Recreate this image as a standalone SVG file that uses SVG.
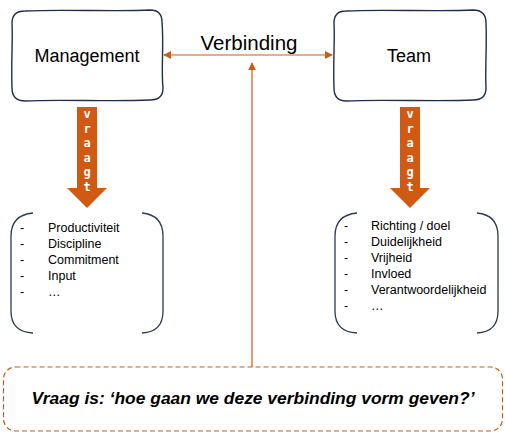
<svg xmlns="http://www.w3.org/2000/svg" width="505" height="442" viewBox="0 0 505 442">
<style>
.box{fill:#fff;stroke:#1f2d4e;stroke-width:1.4;stroke-linejoin:round}
.brk{fill:none;stroke:#2f3b52;stroke-width:1.3}
.lbl{font-family:"Liberation Sans",Arial,sans-serif;font-size:18px;fill:#000;text-anchor:middle}
.li{font-family:"Liberation Sans",Arial,sans-serif;font-size:12.5px;fill:#000}
.vr{font-family:"DejaVu Sans Mono","Liberation Mono",monospace;font-size:12px;font-weight:bold;fill:#fff;text-anchor:middle}
.con{stroke:#d05a14;stroke-width:1.2;fill:none}
.big{fill:#d05a14}
</style>
<defs>
<marker id="ah" viewBox="0 0 10 10" refX="9" refY="5" markerWidth="8" markerHeight="8" markerUnits="userSpaceOnUse" orient="auto-start-reverse">
<path d="M0 0 L10 5 L0 10 Z" fill="#d05a14"/>
</marker>
</defs>

<g id="management">
<path class="box" d="M25 11 C60 9 120 12 150 10 Q162 10 162 22 C164 45 161 70 163 88 Q163 100 150 100 C110 102 60 99 25 101 Q12 101 12 88 C11 60 13 40 12 23 Q12 11 25 11 Z"/>
<text class="lbl" x="87" y="62">Management</text>
</g>

<g id="team">
<path class="box" d="M346 11 C380 9 440 12 473 10 Q486 10 486 23 C487 45 485 70 486 88 Q486 100 473 100 C440 102 380 99 346 101 Q334 101 334 88 C333 60 335 40 334 23 Q334 11 346 11 Z"/>
<text class="lbl" x="409" y="62">Team</text>
</g>

<g id="verbinding-label">
<text class="lbl" x="249" y="50" style="font-size:20.5px">Verbinding</text>
</g>

<g id="vraagt-left">
<path class="big" d="M77 107 H97 V188 H107 L87 208 L67 188 H77 Z"/>
<text class="vr" x="87" y="118">v</text>
<text class="vr" x="87" y="133">r</text>
<text class="vr" x="87" y="147">a</text>
<text class="vr" x="87" y="162">a</text>
<text class="vr" x="87" y="176">g</text>
<text class="vr" x="87" y="191">t</text>
</g>

<g id="vraagt-right">
<path class="big" d="M400 107 H420 V188 H430 L410 208 L390 188 H400 Z"/>
<text class="vr" x="410" y="118">v</text>
<text class="vr" x="410" y="133">r</text>
<text class="vr" x="410" y="147">a</text>
<text class="vr" x="410" y="162">a</text>
<text class="vr" x="410" y="176">g</text>
<text class="vr" x="410" y="191">t</text>
</g>

<g id="management-list">
<path class="brk" d="M33 213 Q11 215 11 236 L11 311 Q11 332 33 333"/>
<path class="brk" d="M142 213 Q163 215 163 236 L163 311 Q163 332 142 333"/>
<text class="li" x="20" y="232">-</text><text class="li" x="48" y="232">Productiviteit</text>
<text class="li" x="20" y="248">-</text><text class="li" x="48" y="248">Discipline</text>
<text class="li" x="20" y="264">-</text><text class="li" x="48" y="264">Commitment</text>
<text class="li" x="20" y="280">-</text><text class="li" x="48" y="280">Input</text>
<text class="li" x="20" y="296">-</text><text class="li" x="48" y="296">…</text>
</g>

<g id="team-list">
<path class="brk" d="M357 213 Q335 215 335 236 L335 311 Q335 332 357 333"/>
<path class="brk" d="M477 213 Q498 215 498 236 L498 311 Q498 332 477 333"/>
<text class="li" x="344" y="230">-</text><text class="li" x="371" y="230">Richting / doel</text>
<text class="li" x="344" y="246">-</text><text class="li" x="371" y="246">Duidelijkheid</text>
<text class="li" x="344" y="262">-</text><text class="li" x="371" y="262">Vrijheid</text>
<text class="li" x="344" y="278">-</text><text class="li" x="371" y="278">Invloed</text>
<text class="li" x="344" y="294">-</text><text class="li" x="371" y="294">Verantwoordelijkheid</text>
<text class="li" x="344" y="310">-</text><text class="li" x="371" y="310">…</text>
</g>

<g id="connectors">
<line class="con" x1="164" y1="55" x2="332" y2="55" marker-start="url(#ah)" marker-end="url(#ah)"/>
<line class="con" x1="252" y1="367" x2="252" y2="63" marker-end="url(#ah)"/>
</g>

<g id="question">
<rect x="3.5" y="367" width="499" height="64" rx="12" fill="#fff" stroke="#d05a14" stroke-width="1.2" stroke-dasharray="5 3"/>
<text x="253" y="404" font-family="Liberation Sans,Arial,sans-serif" font-size="17" font-weight="bold" font-style="italic" text-anchor="middle" textLength="443" lengthAdjust="spacingAndGlyphs">Vraag is: ‘hoe gaan we deze verbinding vorm geven?’</text>
</g>
</svg>
